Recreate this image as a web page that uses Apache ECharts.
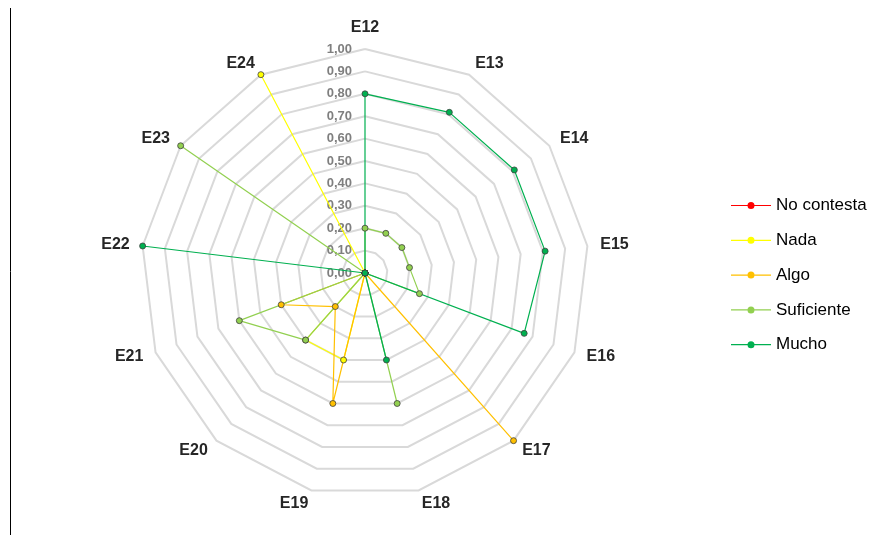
<!DOCTYPE html>
<html>
<head>
<meta charset="utf-8">
<script src="https://cdn.jsdelivr.net/npm/echarts@6/dist/echarts.min.js"></script>
<style>
    html, body { margin: 0; padding: 0; background: #fff; }
    #chart { width: 878px; height: 535px; }
</style>
</head>
<body>
<div id="chart"></div>
<script>
// ejes E12 ... E24 (sentido horario desde arriba)
var indicators = ['E12', 'E13', 'E14', 'E15', 'E16', 'E17', 'E18', 'E19', 'E20', 'E21', 'E22', 'E23', 'E24'];
var seriesNames = ['No contesta', 'Nada', 'Algo', 'Suficiente', 'Mucho'];
var seriesColors = ['#ff0000', '#ffff00', '#ffc000', '#92d050', '#00b050'];
var noContesta = [0, 0, 0, 0, 0, 0, 0, 0, 0, 0, 0, 0, 0];
var nada       = [0, 0, 0, 0, 0, 0, 0, 0.40, 0.40, 0, 0, 0, 1.00];
var algo       = [0, 0, 0, 0, 0, 1.00, 0, 0.60, 0.20, 0.40, 0, 0, 0];
var suficiente = [0.20, 0.20, 0.20, 0.20, 0.26, 0, 0.60, 0, 0.40, 0.60, 0, 1.00, 0];
var mucho      = [0.80, 0.81, 0.81, 0.81, 0.76, 0, 0.40, 0, 0, 0, 1.00, 0, 0];

var FONT = '"Liberation Sans", Arial, sans-serif';

// echarts pone los ejes en sentido antihorario: invertir todo menos el primero
function reorder(arr) {
    var out = [arr[0]];
    for (var i = arr.length - 1; i > 0; i--) {
        out.push(arr[i]);
    }
    return out;
}

var myChart = echarts.init(document.getElementById('chart'));

var indicatorList = reorder(indicators).map(function (name, i) {
    var item = { name: name, min: 0, max: 1 };
    if (i === 0) {
        item.axisLabel = {
            show: true,
            color: '#7f7f7f',
            fontWeight: 'bold',
            fontSize: 13,
            fontFamily: FONT,
            margin: 13,
            formatter: function (v) {
                return v.toFixed(2).replace('.', ',');
            }
        };
    }
    return item;
});

var allValues = [noContesta, nada, algo, suficiente, mucho];
var dataList = allValues.map(function (vals, i) {
    return {
        name: seriesNames[i],
        value: reorder(vals),
        symbol: 'circle',
        symbolSize: 6,
        lineStyle: { color: seriesColors[i], width: 1.2 },
        itemStyle: { color: seriesColors[i], borderColor: '#3f3f3f', borderWidth: 0.8 }
    };
});

// icono de leyenda: línea con marcador
var legendIcon = 'path://M0,3.4H16.6V4.6H0Z M23.4,3.4H40V4.6H23.4Z M23.5,4A3.5,3.5,0,1,1,16.5,4A3.5,3.5,0,1,1,23.5,4Z';

var option = {
    animation: false,
    backgroundColor: '#fff',
    color: seriesColors,
    legend: {
        orient: 'vertical',
        left: 726,
        top: 192,
        itemWidth: 40,
        itemHeight: 8,
        itemGap: 17.8,
        icon: legendIcon,
        data: seriesNames,
        itemStyle: { borderWidth: 0 },
        textStyle: {
            color: '#000',
            fontSize: 17,
            lineHeight: 16,
            fontFamily: FONT
        }
    },
    radar: {
        center: [365, 273],
        radius: 224,
        startAngle: 90,
        shape: 'polygon',
        splitNumber: 10,
        nameGap: 13,
        indicator: indicatorList,
        axisName: {
            color: '#262626',
            fontWeight: 'bold',
            fontSize: 16,
            fontFamily: FONT
        },
        axisLine: { show: false },
        axisTick: { show: false },
        axisLabel: { show: false },
        splitArea: { show: false },
        splitLine: {
            lineStyle: { color: '#d9d9d9', width: 2 }
        }
    },
    series: [{
        type: 'radar',
        data: dataList
    }],
    graphic: [{
        type: 'line',
        shape: { x1: 10.5, y1: 8, x2: 10.5, y2: 535 },
        style: { stroke: '#000', lineWidth: 1 }
    }]
};
myChart.setOption(option);
</script>
</body>
</html>
